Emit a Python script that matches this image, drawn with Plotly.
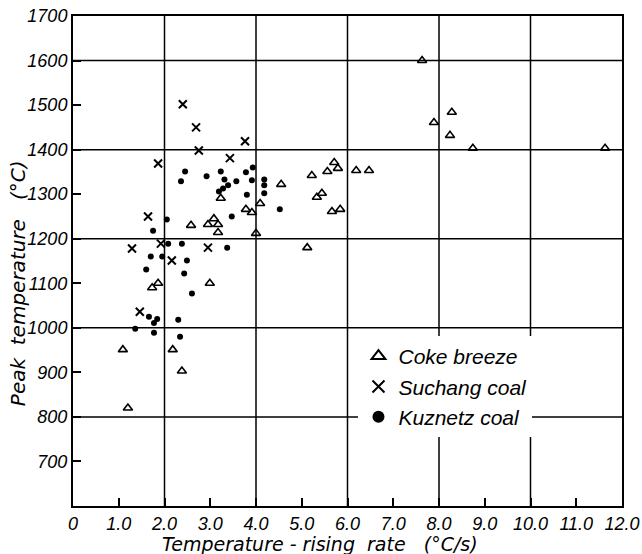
import plotly.graph_objects as go

# Coke breeze (triangles)
coke_x = [1.09, 1.20, 1.73, 1.86, 2.18, 2.38, 2.99, 2.58, 2.95, 3.08, 3.17, 3.17, 3.23, 3.78, 3.91,
          4.09, 4.00, 4.55, 5.12, 5.22, 5.33, 5.44, 5.56, 5.71, 5.79, 5.66, 5.84, 6.19, 6.47,
          7.63, 7.89, 8.28, 8.24, 8.74, 11.63]
coke_y = [951, 820, 1090, 1100, 951, 903, 1100, 1230, 1232, 1245, 1232, 1214, 1291, 1266, 1259,
          1279, 1212, 1322, 1180, 1342, 1293, 1302, 1351, 1371, 1358, 1261, 1266, 1353, 1353,
          1600, 1461, 1484, 1432, 1403, 1403]

# Suchang coal (crosses)
such_x = [2.40, 2.69, 2.75, 3.76, 3.43, 1.86, 1.64, 1.29, 1.92, 2.16, 2.95, 1.46]
such_y = [1502, 1450, 1398, 1419, 1381, 1369, 1250, 1178, 1189, 1151, 1180, 1036]

# Kuznetz coal (dots)
kuz_x = [2.45, 2.36, 2.92, 3.23, 3.31, 3.39, 3.28, 3.19, 3.57, 3.78, 3.93, 3.91, 3.80, 4.18, 4.18,
         4.18, 4.52, 3.47, 2.05, 1.75, 2.08, 2.38, 3.37, 1.70, 1.95, 2.49, 1.60, 2.43, 2.60, 1.66,
         1.77, 1.84, 1.36, 1.77, 2.30, 2.34]
kuz_y = [1351, 1329, 1340, 1351, 1333, 1320, 1313, 1306, 1329, 1349, 1360, 1331, 1299, 1333, 1320,
         1302, 1266, 1250, 1243, 1218, 1189, 1189, 1180, 1160, 1160, 1151, 1131, 1122, 1077, 1025,
         1011, 1020, 998, 989, 1018, 980]

x_ticks = [0, 1, 2, 3, 4, 5, 6, 7, 8, 9, 10, 11, 12]
x_labels = ["0", "1.0", "2.0", "3.0", "4.0", "5.0", "6.0", "7.0", "8.0", "9.0", "10.0", "11.0", "12.0"]
y_ticks = [700, 800, 900, 1000, 1100, 1200, 1300, 1400, 1500, 1600, 1700]
y_labels = ["700", "800", "900", "1000", "1100", "1200", "1300", "1400", "1500", "1600", "1700"]
x_grid = [2, 4, 6, 8, 10]
y_grid = [800, 1000, 1200, 1400, 1600]
x_title = "Temperature - rising  rate   (°C/s)"
y_title = "Peak  temperature   (°C)"

fig = go.Figure()
fig.add_trace(go.Scatter(x=coke_x, y=coke_y, mode="markers", name="Coke breeze",
                         marker=dict(symbol="triangle-up-open", size=8, color="black",
                                     line=dict(width=1.6, color="black"))))
fig.add_trace(go.Scatter(x=such_x, y=such_y, mode="markers", name="Suchang coal",
                         marker=dict(symbol="x-thin-open", size=8, color="black",
                                     line=dict(width=2, color="black"))))
fig.add_trace(go.Scatter(x=kuz_x, y=kuz_y, mode="markers", name="Kuznetz coal",
                         marker=dict(symbol="circle", size=6, color="black")))

shapes = []
for gx in x_grid:
    shapes.append(dict(type="line", xref="x", yref="paper", x0=gx, x1=gx, y0=0, y1=1,
                       line=dict(color="black", width=1.5), layer="below"))
for gy in y_grid:
    shapes.append(dict(type="line", xref="paper", yref="y", x0=0, x1=1, y0=gy, y1=gy,
                       line=dict(color="black", width=1.5), layer="below"))

annotations = [
    dict(text="<i>" + x_title + "</i>", xref="paper", yref="paper", x=0.45, y=-0.078,
         xanchor="center", yanchor="middle", showarrow=False,
         font=dict(family="DejaVu Sans", size=19, color="black")),
    dict(text="<i>" + y_title + "</i>", xref="paper", yref="paper", x=-0.1, y=0.455,
         xanchor="center", yanchor="middle", showarrow=False, textangle=-90,
         font=dict(family="DejaVu Sans", size=20, color="black")),
]

fig.update_layout(
    width=642, height=554,
    margin=dict(l=73, r=20, t=16, b=48),
    paper_bgcolor="white", plot_bgcolor="white",
    shapes=shapes,
    annotations=annotations,
    showlegend=True,
    legend=dict(x=0.52, y=0.347, xanchor="left", yanchor="top",
                bgcolor="white", borderwidth=0,
                font=dict(family="Liberation Sans", size=21, color="black", style="italic"),
                itemsizing="constant"),
    xaxis=dict(range=[0, 12], tickvals=x_ticks, ticktext=["<i>" + t + "</i>" for t in x_labels],
               showgrid=False, zeroline=False, automargin=False,
               showline=True, linecolor="black", linewidth=2, mirror=True,
               ticks="inside", ticklen=8, tickcolor="black", tickwidth=1.5,
               tickfont=dict(family="Liberation Sans", size=18, color="black")),
    yaxis=dict(range=[600, 1700], tickvals=y_ticks, ticktext=["<i>" + t + "</i>" for t in y_labels],
               showgrid=False, zeroline=False, automargin=False,
               showline=True, linecolor="black", linewidth=2, mirror=True,
               ticks="inside", ticklen=8, tickcolor="black", tickwidth=1.5,
               tickfont=dict(family="Liberation Sans", size=18, color="black")),
)

fig.write_html("out.html")
